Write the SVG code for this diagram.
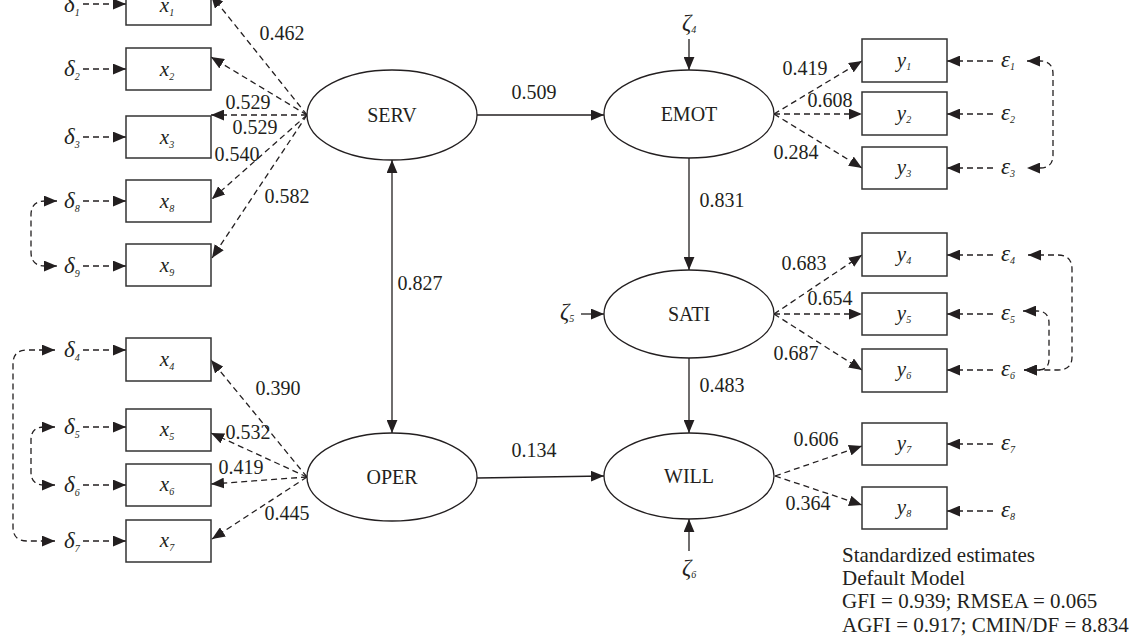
<svg xmlns="http://www.w3.org/2000/svg" width="1132" height="640" viewBox="0 0 1132 640">
<style>
text{font-family:"Liberation Serif","Times New Roman",serif;fill:#231f20}
.box{fill:#fff;stroke:#333;stroke-width:1.5}
.lat{fill:#fff;stroke:#231f20;stroke-width:1.3}
.nm{font-size:20px;text-anchor:middle}
.v{font-size:21px;font-style:italic;text-anchor:middle}
.e{font-size:23px;font-style:italic}
.sub{font-size:10px;font-style:italic}
.lb{font-size:20px;text-anchor:middle}
.ann{font-size:21px}
.s{fill:none;stroke:#231f20;stroke-width:1.3;marker-end:url(#ah)}
.d{fill:none;stroke:#231f20;stroke-width:1.3;stroke-dasharray:6 4;marker-end:url(#ah)}
.dd{fill:none;stroke:#231f20;stroke-width:1.3;stroke-dasharray:6 4;marker-start:url(#ah);marker-end:url(#ah)}
</style>
<defs>
<marker id="ah" viewBox="0 0 12 10" refX="12" refY="5" markerWidth="13" markerHeight="11" markerUnits="userSpaceOnUse" orient="auto-start-reverse">
<path d="M0,0 L12,5 L0,10 z" fill="#231f20"/>
</marker>
</defs>

<g id="connectors">
<path class="d" d="M83,4 H126"/>
<path class="d" d="M83,69 H126"/>
<path class="d" d="M83,137 H126"/>
<path class="d" d="M83,201 H126"/>
<path class="d" d="M83,266 H126"/>
<path class="d" d="M83,350 H126"/>
<path class="d" d="M83,427 H126"/>
<path class="d" d="M83,485 H126"/>
<path class="d" d="M83,541 H126"/>
<path class="dd" d="M57,201 H45 Q31,201 31,215 V252 Q31,266 45,266 H57"/>
<path class="dd" d="M55,350 H27 Q13,350 13,364 V527 Q13,541 27,541 H55"/>
<path class="dd" d="M55,427 H44 Q31,427 31,440 V472 Q31,485 44,485 H55"/>
<path class="d" d="M307,115 L211,-5"/>
<path class="d" d="M307,115 L211,57"/>
<path class="d" d="M307,115 L211,115"/>
<path class="d" d="M307,115 L212,199"/>
<path class="d" d="M307,115 L212,258"/>
<path class="d" d="M307,477 L211,360"/>
<path class="d" d="M307,477 L211,433"/>
<path class="d" d="M307,477 L211,484"/>
<path class="d" d="M307,477 L212,539"/>
<path class="s" d="M477,115 H604"/>
<path class="s" d="M689,158 V270"/>
<path class="s" d="M689,358 V433"/>
<path class="s" d="M477,478 L604,476"/>
<path class="s" d="M392,160 V433" marker-start="url(#ah)"/>
<path class="s" d="M689,39 V70"/>
<path class="s" d="M581,314 H604"/>
<path class="s" d="M689,551 V519"/>
<path class="d" d="M774,114 L862,61"/>
<path class="d" d="M774,114 L862,114"/>
<path class="d" d="M774,114 L862,168"/>
<path class="d" d="M774,314 L862,255"/>
<path class="d" d="M774,314 L862,314"/>
<path class="d" d="M774,314 L862,370"/>
<path class="d" d="M775,476 L862,446"/>
<path class="d" d="M775,476 L862,505"/>
<path class="d" d="M993,61 H947"/>
<path class="d" d="M993,114 H947"/>
<path class="d" d="M993,168 H947"/>
<path class="d" d="M993,255 H947"/>
<path class="d" d="M993,314 H947"/>
<path class="d" d="M993,370 H947"/>
<path class="d" d="M993,444 H947"/>
<path class="d" d="M993,511 H947"/>
<path class="dd" d="M1027,61 H1040 Q1053,61 1053,74 V155 Q1053,168 1040,168 H1027"/>
<path class="dd" d="M1028,255 H1058 Q1072,255 1072,269 V357 Q1072,370 1058,370 H1024"/>
<path class="dd" d="M1023,311 H1037 Q1049,311 1049,323 V359 Q1049,370 1038,370 H1024"/>
</g>

<g id="labels">
<text class="lb" x="282" y="40">0.462</text>
<text class="lb" x="248" y="109">0.529</text>
<text class="lb" x="255" y="134">0.529</text>
<text class="lb" x="237" y="161">0.540</text>
<text class="lb" x="287" y="203">0.582</text>
<text class="lb" x="420" y="290">0.827</text>
<text class="lb" x="534" y="99">0.509</text>
<text class="lb" x="534" y="457">0.134</text>
<text class="lb" x="278" y="395">0.390</text>
<text class="lb" x="248" y="439">0.532</text>
<text class="lb" x="241" y="474">0.419</text>
<text class="lb" x="287" y="520">0.445</text>
<text class="lb" x="805" y="75">0.419</text>
<text class="lb" x="830" y="107">0.608</text>
<text class="lb" x="796" y="159">0.284</text>
<text class="lb" x="722" y="207">0.831</text>
<text class="lb" x="804" y="270">0.683</text>
<text class="lb" x="830" y="305">0.654</text>
<text class="lb" x="796" y="360">0.687</text>
<text class="lb" x="722" y="392">0.483</text>
<text class="lb" x="816" y="446">0.606</text>
<text class="lb" x="808" y="510">0.364</text>
</g>

<g id="SERV"><ellipse class="lat" cx="392" cy="115" rx="85" ry="45"/><text class="nm" x="392" y="122">SERV</text></g>
<g id="OPER"><ellipse class="lat" cx="392" cy="477" rx="85" ry="44"/><text class="nm" x="392" y="484">OPER</text></g>
<g id="EMOT"><ellipse class="lat" cx="689" cy="114" rx="85" ry="44"/><text class="nm" x="689" y="121">EMOT</text></g>
<g id="SATI"><ellipse class="lat" cx="689" cy="314" rx="85" ry="44"/><text class="nm" x="689" y="321">SATI</text></g>
<g id="WILL"><ellipse class="lat" cx="689" cy="476" rx="85" ry="43"/><text class="nm" x="689" y="483">WILL</text></g>

<g id="x1"><rect class="box" x="126" y="-17" width="85" height="42"/><text class="v" x="167" y="12">x<tspan class="sub" dy="4">1</tspan></text></g>
<g id="x2"><rect class="box" x="126" y="48" width="85" height="42"/><text class="v" x="167" y="76">x<tspan class="sub" dy="4">2</tspan></text></g>
<g id="x3"><rect class="box" x="126" y="116" width="85" height="42"/><text class="v" x="167" y="144">x<tspan class="sub" dy="4">3</tspan></text></g>
<g id="x8"><rect class="box" x="126" y="180" width="85" height="42"/><text class="v" x="167" y="208">x<tspan class="sub" dy="4">8</tspan></text></g>
<g id="x9"><rect class="box" x="126" y="244" width="85" height="42"/><text class="v" x="167" y="272">x<tspan class="sub" dy="4">9</tspan></text></g>
<g id="x4"><rect class="box" x="126" y="338" width="85" height="43"/><text class="v" x="167" y="366">x<tspan class="sub" dy="4">4</tspan></text></g>
<g id="x5"><rect class="box" x="126" y="409" width="85" height="42"/><text class="v" x="167" y="436">x<tspan class="sub" dy="4">5</tspan></text></g>
<g id="x6"><rect class="box" x="126" y="464" width="85" height="42"/><text class="v" x="167" y="491">x<tspan class="sub" dy="4">6</tspan></text></g>
<g id="x7"><rect class="box" x="126" y="520" width="85" height="42"/><text class="v" x="167" y="547">x<tspan class="sub" dy="4">7</tspan></text></g>

<g id="y1"><rect class="box" x="862" y="39" width="85" height="43"/><text class="v" x="904" y="67">y<tspan class="sub" dy="3">1</tspan></text></g>
<g id="y2"><rect class="box" x="862" y="92" width="85" height="43"/><text class="v" x="904" y="120">y<tspan class="sub" dy="3">2</tspan></text></g>
<g id="y3"><rect class="box" x="862" y="147" width="85" height="42"/><text class="v" x="904" y="174">y<tspan class="sub" dy="3">3</tspan></text></g>
<g id="y4"><rect class="box" x="862" y="233" width="85" height="43"/><text class="v" x="904" y="261">y<tspan class="sub" dy="3">4</tspan></text></g>
<g id="y5"><rect class="box" x="862" y="293" width="85" height="42"/><text class="v" x="904" y="320">y<tspan class="sub" dy="3">5</tspan></text></g>
<g id="y6"><rect class="box" x="862" y="349" width="85" height="43"/><text class="v" x="904" y="376">y<tspan class="sub" dy="3">6</tspan></text></g>
<g id="y7"><rect class="box" x="862" y="423" width="85" height="42"/><text class="v" x="904" y="450">y<tspan class="sub" dy="3">7</tspan></text></g>
<g id="y8"><rect class="box" x="862" y="487" width="85" height="42"/><text class="v" x="904" y="514">y<tspan class="sub" dy="3">8</tspan></text></g>

<g id="d1"><text class="e" x="64" y="12">δ<tspan class="sub" dy="4">1</tspan></text></g>
<g id="d2"><text class="e" x="64" y="76">δ<tspan class="sub" dy="4">2</tspan></text></g>
<g id="d3"><text class="e" x="64" y="144">δ<tspan class="sub" dy="4">3</tspan></text></g>
<g id="d8"><text class="e" x="64" y="208">δ<tspan class="sub" dy="4">8</tspan></text></g>
<g id="d9"><text class="e" x="64" y="273">δ<tspan class="sub" dy="4">9</tspan></text></g>
<g id="d4"><text class="e" x="64" y="357">δ<tspan class="sub" dy="4">4</tspan></text></g>
<g id="d5"><text class="e" x="64" y="434">δ<tspan class="sub" dy="4">5</tspan></text></g>
<g id="d6"><text class="e" x="64" y="492">δ<tspan class="sub" dy="4">6</tspan></text></g>
<g id="d7"><text class="e" x="64" y="548">δ<tspan class="sub" dy="4">7</tspan></text></g>

<g id="e1"><text class="e" x="1001" y="67">ε<tspan class="sub" dy="3">1</tspan></text></g>
<g id="e2"><text class="e" x="1001" y="120">ε<tspan class="sub" dy="3">2</tspan></text></g>
<g id="e3"><text class="e" x="1001" y="174">ε<tspan class="sub" dy="3">3</tspan></text></g>
<g id="e4"><text class="e" x="1001" y="261">ε<tspan class="sub" dy="3">4</tspan></text></g>
<g id="e5"><text class="e" x="1001" y="320">ε<tspan class="sub" dy="3">5</tspan></text></g>
<g id="e6"><text class="e" x="1001" y="376">ε<tspan class="sub" dy="3">6</tspan></text></g>
<g id="e7"><text class="e" x="1001" y="450">ε<tspan class="sub" dy="3">7</tspan></text></g>
<g id="e8"><text class="e" x="1001" y="517">ε<tspan class="sub" dy="3">8</tspan></text></g>

<g id="z4"><text class="e" x="682" y="30">ζ<tspan class="sub" dy="3">4</tspan></text></g>
<g id="z5"><text class="e" x="560" y="319">ζ<tspan class="sub" dy="3">5</tspan></text></g>
<g id="z6"><text class="e" x="682" y="575">ζ<tspan class="sub" dy="3">6</tspan></text></g>

<g id="notes">
<text class="ann" x="842" y="562">Standardized estimates</text>
<text class="ann" x="842" y="585">Default Model</text>
<text class="ann" x="842" y="608">GFI = 0.939; RMSEA = 0.065</text>
<text class="ann" x="842" y="632">AGFI = 0.917; CMIN/DF = 8.834</text>
</g>
</svg>
